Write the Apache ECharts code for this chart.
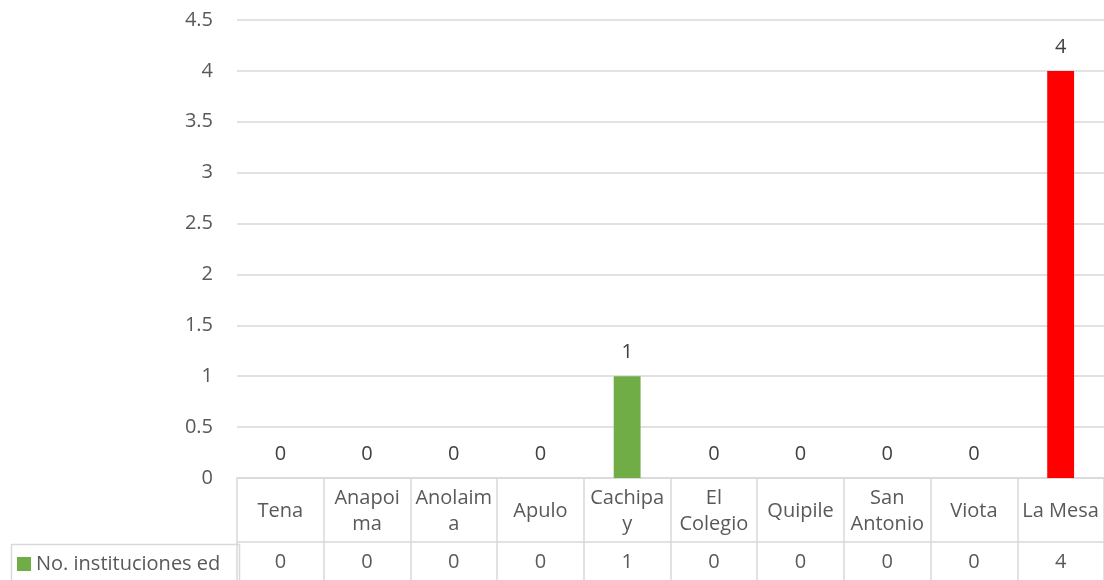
<!DOCTYPE html>
<html>
<head>
<meta charset="utf-8">
<script src="https://cdn.jsdelivr.net/npm/echarts@6/dist/echarts.min.js"></script>
<style>
  html, body { margin: 0; padding: 0; background: #fff; }
  #chart { width: 1104px; height: 580px; }
</style>
</head>
<body>
<div id="chart"></div>
<script>
// Municipalities and number of educational institutions per municipality
const categories = ['Tena', 'Anapoima', 'Anolaima', 'Apulo', 'Cachipay', 'El Colegio', 'Quipile', 'San Antonio', 'Viota', 'La Mesa'];
const headerLabels = ['Tena', 'Anapoi\nma', 'Anolaim\na', 'Apulo', 'Cachipa\ny', 'El\nColegio', 'Quipile', 'San\nAntonio', 'Viota', 'La Mesa'];
const values = [0, 0, 0, 0, 1, 0, 0, 0, 0, 4];
const barColors = ['#70AD47', '#70AD47', '#70AD47', '#70AD47', '#70AD47', '#70AD47', '#70AD47', '#70AD47', '#70AD47', '#FF0000'];
const seriesName = 'No. instituciones ed';
const yTicks = { min: 0, max: 4.5, interval: 0.5 };

const FONT = '"Open Sans", "Noto Sans", sans-serif';
const FS = 20;
const GRID_LINE = '#d9d9d9';
const TEXT = '#595959';

const chart = echarts.init(document.getElementById('chart'), null, { renderer: 'canvas' });

chart.setOption({
  animation: false,
  textStyle: { fontFamily: FONT },
  grid: { left: 237, right: 0, top: 20, bottom: 102, containLabel: false },
  legend: {
    data: [seriesName],
    left: 12,
    top: 549,
    icon: 'rect',
    itemWidth: 14,
    itemHeight: 14,
    textStyle: { fontFamily: FONT, fontSize: FS, color: TEXT },
    selectedMode: false
  },
  xAxis: [
    {
      type: 'category',
      data: categories,
      position: 'bottom',
      axisLine: { show: true, lineStyle: { color: GRID_LINE, width: 1.5 } },
      axisTick: { show: true, length: 104, alignWithLabel: false, lineStyle: { color: GRID_LINE, width: 1.5 } },
      axisLabel: {
        interval: 0,
        margin: 33,
        verticalAlign: 'middle',
        lineHeight: 26,
        fontSize: FS,
        color: TEXT,
        fontFamily: FONT,
        formatter: (v, i) => headerLabels[i]
      }
    },
    {
      type: 'category',
      data: categories,
      position: 'bottom',
      offset: 64,
      axisLine: { show: true, lineStyle: { color: GRID_LINE, width: 1.5 } },
      axisTick: { show: false },
      axisLabel: {
        interval: 0,
        margin: 20,
        verticalAlign: 'middle',
        fontSize: FS,
        color: TEXT,
        fontFamily: FONT,
        formatter: (v, i) => String(values[i])
      }
    }
  ],
  yAxis: {
    type: 'value',
    min: yTicks.min,
    max: yTicks.max,
    interval: yTicks.interval,
    axisLine: { show: false },
    axisTick: { show: false },
    splitLine: { lineStyle: { color: GRID_LINE, width: 1.5 } },
    axisLabel: { margin: 24, fontSize: FS, color: TEXT, fontFamily: FONT }
  },
  graphic: [
    {
      type: 'rect',
      left: 9,
      top: 542,
      shape: { width: 228, height: 40 },
      style: { fill: 'none', stroke: GRID_LINE, lineWidth: 1.5 },
      silent: true
    }
  ],
  series: [
    {
      name: seriesName,
      type: 'bar',
      xAxisIndex: 0,
      barWidth: '31%',
      itemStyle: { color: '#70AD47' },
      data: values.map((v, i) => ({ value: v, itemStyle: { color: barColors[i] } })),
      label: {
        show: true,
        position: 'top',
        distance: 14,
        fontSize: FS,
        color: '#404040',
        fontFamily: FONT
      }
    }
  ]
});
</script>
</body>
</html>
